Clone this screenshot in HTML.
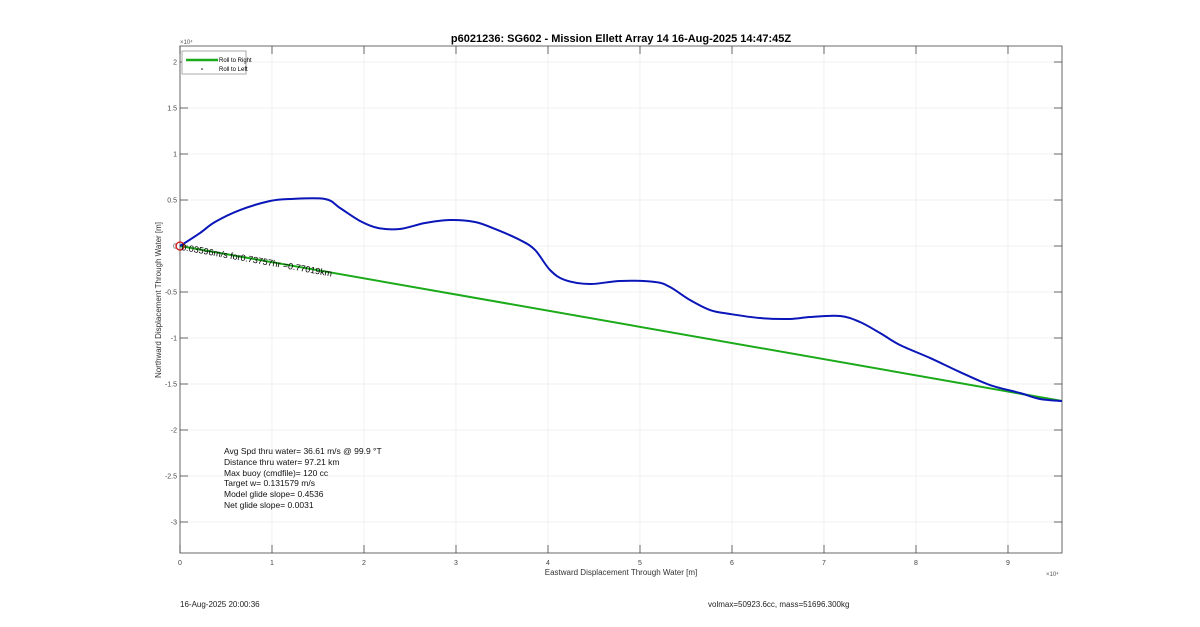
<!DOCTYPE html>
<html><head><meta charset="utf-8"><style>
body{margin:0;background:#fff;font-family:"Liberation Sans",sans-serif}
svg text{font-family:"Liberation Sans",sans-serif}
</style></head><body>
<svg id="chart" width="1200" height="622" viewBox="0 0 1200 622">
<rect x="0" y="0" width="1200" height="622" fill="#fff"/>
<g id="grid"></g>
<g id="axes"></g>
<g id="series"></g>
<text x="621" y="42" text-anchor="middle" font-size="11" font-weight="bold" fill="#000">p6021236: SG602 - Mission Ellett Array 14 16-Aug-2025 14:47:45Z</text>
<text x="621" y="575" text-anchor="middle" font-size="8" fill="#333">Eastward Displacement Through Water [m]</text>
<text transform="translate(161,300) rotate(-90)" text-anchor="middle" font-size="8" fill="#333">Northward Displacement Through Water [m]</text>
<text x="180" y="44" font-size="6" fill="#555">×10⁴</text>
<text x="1046" y="576" font-size="6" fill="#555">×10⁴</text>
<g>
<rect x="182" y="51" width="64" height="23" fill="#fff" stroke="#888" stroke-width="0.7"/>
<line x1="186" y1="60" x2="218" y2="60" stroke="#1aaa1a" stroke-width="2.5"/>
<text x="219" y="62" font-size="6" fill="#000">Roll to Right</text>
<circle cx="202" cy="69" r="0.8" fill="#000"/>
<text x="219" y="71" font-size="6" fill="#000">Roll to Left</text>
</g>
<g font-size="8.5" fill="#111">
<text x="224" y="454">Avg Spd thru water= 36.61 m/s @  99.9 °T</text>
<text x="224" y="465">Distance thru water= 97.21 km</text>
<text x="224" y="476">Max buoy (cmdfile)= 120 cc</text>
<text x="224" y="486">Target w= 0.131579 m/s</text>
<text x="224" y="497">Model glide slope= 0.4536</text>
<text x="224" y="508">Net glide slope= 0.0031</text>
</g>
<text x="180" y="607" font-size="8" fill="#222">16-Aug-2025 20:00:36</text>
<text x="708" y="607" font-size="8" fill="#222">volmax=50923.6cc, mass=51696.300kg</text>
</svg>
<script>
const xTicks=[0,1,2,3,4,5,6,7,8,9];
const yTicks=[2,1.5,1,0.5,0,-0.5,-1,-1.5,-2,-2.5,-3];
const yTickLabels=['2','1.5','1','0.5','0','-0.5','-1','-1.5','-2','-2.5','-3'];
const trackX=[0,0.217,0.380,0.652,0.978,1.196,1.576,1.739,1.957,2.152,2.391,2.663,2.935,3.207,3.424,3.696,3.859,4.022,4.185,4.457,4.783,5.163,5.326,5.543,5.761,5.978,6.304,6.630,6.848,7.174,7.391,7.609,7.826,8.152,8.478,8.804,9.130,9.348,9.587];
const trackY=[0,0.141,0.261,0.391,0.489,0.511,0.511,0.413,0.272,0.196,0.185,0.250,0.283,0.261,0.185,0.065,-0.043,-0.261,-0.370,-0.413,-0.380,-0.391,-0.446,-0.587,-0.696,-0.739,-0.783,-0.793,-0.772,-0.761,-0.826,-0.946,-1.076,-1.217,-1.370,-1.511,-1.598,-1.663,-1.685];
const netX=[0,9.587];
const netY=[0,-1.685];
const L=180,R=1062,T=46,B=553;
const xmin=0,xmax=9.587,ymin=-3.337,ymax=2.174;
const sx=v=>L+(v-xmin)/(xmax-xmin)*(R-L);
const sy=v=>B-(v-ymin)/(ymax-ymin)*(B-T);
const NS='http://www.w3.org/2000/svg';
function mk(tag,attrs,parent){const e=document.createElementNS(NS,tag);for(const k in attrs)e.setAttribute(k,attrs[k]);parent.appendChild(e);return e;}
const grid=document.getElementById('grid'),axes=document.getElementById('axes'),series=document.getElementById('series');
xTicks.forEach(t=>{const x=sx(t);
const g=mk('line',{x1:x,x2:x,y1:T,y2:B,stroke:'#ececec','stroke-width':0.8},grid);


mk('line',{x1:x,x2:x,y1:B,y2:B-8,stroke:'#444','stroke-width':0.8},axes);
mk('line',{x1:x,x2:x,y1:T,y2:T+8,stroke:'#444','stroke-width':0.8},axes);
const tx=mk('text',{x:x,y:B+12,'text-anchor':'middle','font-size':7,fill:'#444'},axes);tx.textContent=t;

});
yTicks.forEach((t,i)=>{const y=sy(t);
const g=mk('line',{x1:L,x2:R,y1:y,y2:y,stroke:'#ececec','stroke-width':0.8},grid);


mk('line',{x1:L,x2:L+8,y1:y,y2:y,stroke:'#444','stroke-width':0.8},axes);
mk('line',{x1:R,x2:R-8,y1:y,y2:y,stroke:'#444','stroke-width':0.8},axes);
const tx=mk('text',{x:L-3,y:y+2.5,'text-anchor':'end','font-size':7,fill:'#444'},axes);tx.textContent=yTickLabels[i];

});
mk('rect',{x:L,y:T,width:R-L,height:B-T,fill:'none',stroke:'#444','stroke-width':0.8},axes);
const gl=mk('polyline',{points:netX.map((v,i)=>sx(v)+','+sy(netY[i])).join(' '),fill:'none',stroke:'#1aaa1a','stroke-width':2},series);


const P=trackX.map((v,i)=>[sx(v),sy(trackY[i])]);
let d='M'+P[0][0]+','+P[0][1];
for(let i=0;i<P.length-1;i++){const p0=P[Math.max(0,i-1)],p1=P[i],p2=P[i+1],p3=P[Math.min(P.length-1,i+2)];
d+=` C${p1[0]+(p2[0]-p0[0])/6},${p1[1]+(p2[1]-p0[1])/6} ${p2[0]-(p3[0]-p1[0])/6},${p2[1]-(p3[1]-p1[1])/6} ${p2[0]},${p2[1]}`;}
const bl=mk('path',{d:d,fill:'none',stroke:'#0a16b8','stroke-width':2,'stroke-linejoin':'round'},series);


const c=mk('circle',{cx:sx(0),cy:sy(0),r:4,fill:'none',stroke:'#d01010','stroke-width':1.3},series);


const lab=mk('text',{transform:`translate(${sx(0)+1},${sy(0)+4}) rotate(10)`,'font-size':9,fill:'#000'},series);
lab.textContent='0.03596m/s for0.73757hr =0.77019km';


</script>
</body></html>
